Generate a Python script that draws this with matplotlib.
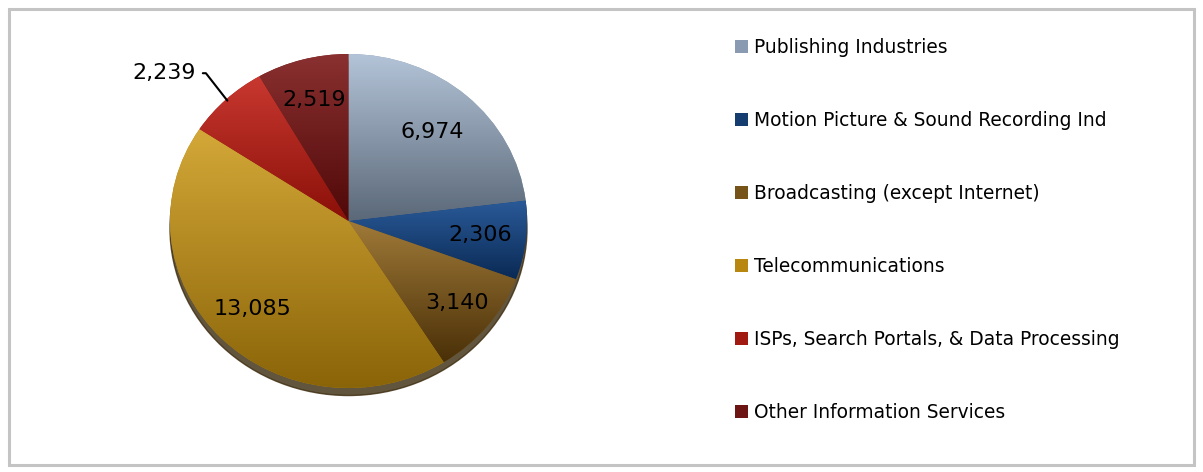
import numpy as np
import matplotlib.pyplot as plt
from matplotlib.patches import Rectangle, Ellipse
from matplotlib.colors import LinearSegmentedColormap

categories = ['Publishing Industries', 'Motion Picture & Sound Recording Ind',
              'Broadcasting (except Internet)', 'Telecommunications',
              'ISPs, Search Portals, & Data Processing', 'Other Information Services']
values = [6974, 2306, 3140, 13085, 2239, 2519]
colors = ['#8a9ab0', '#153d70', '#765318', '#b7870f', '#a01a12', '#6c1512']
light = ['#b4c4d8', '#2a5a98', '#a07a38', '#d4a838', '#c83830', '#8a3030']
dark = ['#5a6878', '#0a2a55', '#4a3008', '#8a6408', '#8a1008', '#500808']
label_r = [0.71, 0.74, 0.78, 0.75, None, 0.75]

fig = plt.figure(figsize=(12.03, 4.72), dpi=100)

# outer chart frame
fig.patches.append(Rectangle((9/1203, 7/472), 1185/1203, 456/472, transform=fig.transFigure,
                             fill=False, edgecolor='#c4c4c4', linewidth=2.2))

ax = fig.add_axes([170/1203, 84/472, 357/1203, 334/472])
ax.add_patch(Ellipse((0.0, -0.045), 2.0, 2.0, color='#3b2a0c', alpha=0.8, zorder=0,
                     clip_on=False))
wedges, _ = ax.pie(values, colors=colors, startangle=90, counterclock=False, radius=1,
                   wedgeprops=dict(linewidth=0))
ax.set_aspect('auto')
ax.axis('off')

# vertical light-to-dark shading inside each slice
grad = np.linspace(0, 1, 256).reshape(-1, 1)
for w, c0, c1 in zip(wedges, light, dark):
    bb = w.get_path().get_extents()
    cmap = LinearSegmentedColormap.from_list('s', [c0, c1])
    im = ax.imshow(grad, cmap=cmap, aspect='auto', origin='upper',
                   extent=(bb.x0, bb.x1, bb.y0, bb.y1), zorder=1.5)
    im.set_clip_path(w)
ax.set_xlim(-1, 1)
ax.set_ylim(-1, 1)

for w, v, r in zip(wedges, values, label_r):
    ang = np.deg2rad((w.theta1 + w.theta2) / 2)
    txt = f'{v:,}'
    if r is None:
        x0, y0 = np.cos(ang), np.sin(ang)
        ax.annotate(txt, xy=(x0 * 0.99, y0 * 0.99), xytext=(-0.855, 0.885),
                    ha='right', va='center', fontsize=16, color='black', zorder=4,
                    arrowprops=dict(arrowstyle='-', color='black', lw=1.5,
                                    connectionstyle='angle,angleA=0,angleB=-52,rad=0',
                                    shrinkA=3, shrinkB=0),
                    annotation_clip=False)
    else:
        ax.text(r * np.cos(ang), r * np.sin(ang), txt, ha='center', va='center',
                fontsize=16, color='black', zorder=4)

leg = fig.legend(wedges, categories, loc='upper left', bbox_to_anchor=(728/1203, 1 - 31/472),
                 frameon=False, fontsize=13.4, handlelength=0.7, handleheight=0.7,
                 handletextpad=0.3, labelspacing=2.9, borderaxespad=0)

fig.savefig('out.png', dpi=100)
